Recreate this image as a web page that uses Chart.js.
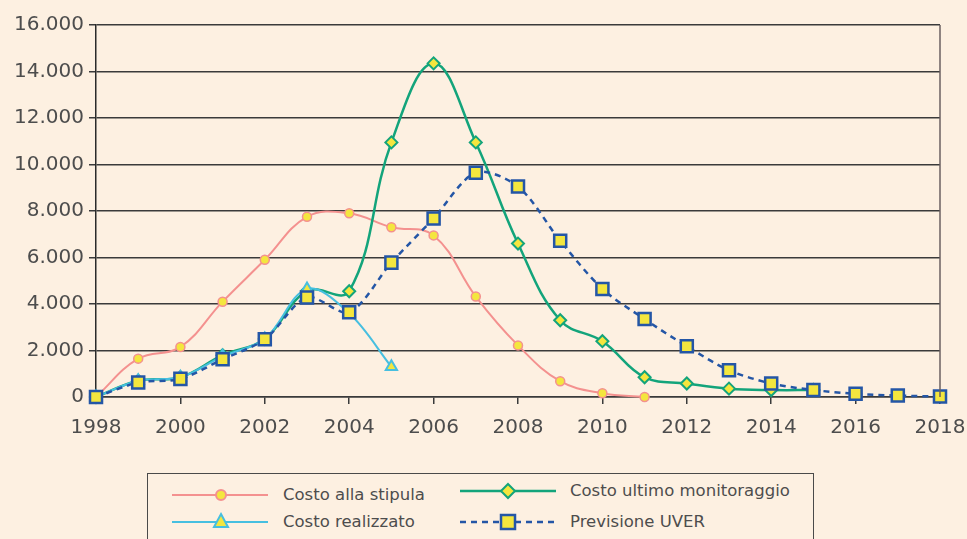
<!DOCTYPE html>
<html>
<head>
<meta charset="utf-8">
<script src="https://cdn.jsdelivr.net/npm/chart.js@4"></script>
<style>
  html, body { margin: 0; padding: 0; background: #fdf0e1; }
  #wrap { position: relative; width: 967px; height: 539px; overflow: hidden; }
  #chart { position: absolute; left: 0; top: 0; }
  #legend {
    position: absolute; left: 147px; top: 473px; width: 667px; height: 80px;
    border: 1.5px solid #4a4a4a; box-sizing: border-box;
    font-family: "DejaVu Sans", sans-serif; font-size: 16.5px; color: #4d4d4d;
  }
  .item { position: absolute; height: 24px; line-height: 24px; }
  .item svg { position: absolute; left: 0; top: 0; }
  .item span { position: absolute; white-space: nowrap; }
</style>
</head>
<body>
<div id="wrap">
  <canvas id="chart" width="967" height="460"></canvas>
  <div id="legend">
    <div class="item" style="left:24px;top:9px;">
      <svg width="98" height="24"><line x1="0" y1="12" x2="96" y2="12" stroke="#f4918f" stroke-width="2"/><circle cx="49" cy="12" r="5" fill="#f4e63e" stroke="#f4918f" stroke-width="2"/></svg>
      <span style="left:111px;">Costo alla stipula</span>
    </div>
    <div class="item" style="left:24px;top:36px;">
      <svg width="98" height="24"><line x1="0" y1="12" x2="96" y2="12" stroke="#47bfe0" stroke-width="2"/><polygon points="49,4 56,17 42,17" fill="#f4e63e" stroke="#47bfe0" stroke-width="2"/></svg>
      <span style="left:111px;">Costo realizzato</span>
    </div>
    <div class="item" style="left:312px;top:5px;">
      <svg width="98" height="24"><line x1="0" y1="12" x2="96" y2="12" stroke="#13a47b" stroke-width="2.5"/><polygon points="48,5 55,12 48,19 41,12" fill="#f4e63e" stroke="#13a47b" stroke-width="2"/></svg>
      <span style="left:110px;">Costo ultimo monitoraggio</span>
    </div>
    <div class="item" style="left:312px;top:36px;">
      <svg width="98" height="24"><line x1="0" y1="12" x2="96" y2="12" stroke="#2456a6" stroke-width="2.5" stroke-dasharray="6,5"/><rect x="41" y="5" width="14" height="14" fill="#f4e63e" stroke="#2456a6" stroke-width="2.5"/></svg>
      <span style="left:110px;">Previsione UVER</span>
    </div>
  </div>
</div>
<script>
const years = [1998, 1999, 2000, 2001, 2002, 2003, 2004, 2005, 2006, 2007, 2008, 2009, 2010, 2011, 2012, 2013, 2014, 2015, 2016, 2017, 2018];

const costoStipula = [0, 1650, 2150, 4100, 5900, 7750, 7900, 7300, 6950, 4320, 2220, 680, 160, 0];
const costoRealizzato = [0, 700, 850, 1750, 2500, 4650, 3600, 1300];
const costoMonitoraggio = [0, 700, 850, 1800, 2500, 4560, 4550, 10950, 14350, 10950, 6600, 3300, 2400, 850, 580, 360, 300, 300];
const previsioneUver = [0, 620, 780, 1620, 2480, 4280, 3650, 5780, 7680, 9650, 9050, 6720, 4650, 3350, 2180, 1150, 580, 300, 140, 60, 20];

const xTicks = [1998, 2000, 2002, 2004, 2006, 2008, 2010, 2012, 2014, 2016, 2018];
const yTicks = [0, 2000, 4000, 6000, 8000, 10000, 12000, 14000, 16000];

const toPoints = (vals) => vals.map((v, i) => ({ x: years[i], y: v }));
const fmt = (v) => String(v).replace(/\B(?=(\d{3})+(?!\d))/g, ".");

const rightBorder = {
  id: "rightBorder",
  afterDraw(chart) {
    const { ctx, chartArea } = chart;
    ctx.save();
    ctx.strokeStyle = "#6a6060";
    ctx.lineWidth = 1.5;
    ctx.beginPath();
    ctx.moveTo(chartArea.right, chartArea.top);
    ctx.lineTo(chartArea.right, chartArea.bottom);
    ctx.stroke();
    ctx.restore();
  },
};

const yellow = "#f4e63e";

new Chart(document.getElementById("chart"), {
  type: "line",
  data: {
    datasets: [
      {
        label: "Previsione UVER",
        data: toPoints(previsioneUver),
        borderColor: "#2456a6",
        borderWidth: 2.5,
        borderDash: [6, 5],
        backgroundColor: yellow,
        pointStyle: "rect",
        pointRadius: 8.5,
        pointBorderWidth: 2.5,
        pointBorderColor: "#2456a6",
        tension: 0.3,
        clip: false,
        order: 0,
      },
      {
        label: "Costo realizzato",
        data: toPoints(costoRealizzato),
        borderColor: "#47bfe0",
        borderWidth: 2,
        backgroundColor: yellow,
        pointStyle: "triangle",
        pointRadius: 6.5,
        pointBorderWidth: 2,
        tension: 0.35,
        clip: false,
        order: 1,
      },
      {
        label: "Costo ultimo monitoraggio",
        data: toPoints(costoMonitoraggio),
        borderColor: "#13a47b",
        borderWidth: 2.5,
        backgroundColor: yellow,
        pointStyle: "rectRot",
        pointRadius: 6,
        pointBorderWidth: 2,
        tension: 0.4,
        clip: false,
        order: 2,
      },
      {
        label: "Costo alla stipula",
        data: toPoints(costoStipula),
        borderColor: "#f4918f",
        borderWidth: 2,
        backgroundColor: yellow,
        pointStyle: "circle",
        pointRadius: 4.5,
        pointBorderWidth: 1.5,
        tension: 0.4,
        clip: false,
        order: 3,
      },
    ],
  },
  options: {
    responsive: false,
    animation: false,
    layout: { padding: { top: 25, right: 27, left: 0, bottom: 0 } },
    plugins: { legend: { display: false }, tooltip: { enabled: false } },
    scales: {
      x: {
        type: "linear",
        min: 1998,
        max: 2018,
        afterFit: (s) => { s.height = 63; s.paddingLeft = 0; s.paddingRight = 0; },
        afterBuildTicks: (s) => { s.ticks = xTicks.map((v) => ({ value: v })); },
        ticks: {
          callback: (v) => String(v),
          font: { family: "DejaVu Sans", size: 20 },
          color: "#4d4d4d",
          padding: 12,
          maxRotation: 0,
        },
        grid: { drawOnChartArea: false, drawTicks: true, tickLength: 7, color: "#3a3a3a", lineWidth: 1.5 },
        border: { color: "#3a3a3a", width: 1.5 },
      },
      y: {
        min: 0,
        max: 16000,
        afterFit: (s) => { s.width = 96; s.paddingTop = 0; s.paddingBottom = 0; },
        afterBuildTicks: (s) => { s.ticks = yTicks.map((v) => ({ value: v })); },
        ticks: {
          callback: (v) => fmt(v),
          font: { family: "DejaVu Sans", size: 20 },
          color: "#4d4d4d",
          padding: 5,
        },
        grid: { color: "#3a3a3a", lineWidth: 1.5, tickLength: 7 },
        border: { color: "#2a2a2a", width: 1.5 },
      },
    },
  },
  plugins: [rightBorder],
});
</script>
</body>
</html>
